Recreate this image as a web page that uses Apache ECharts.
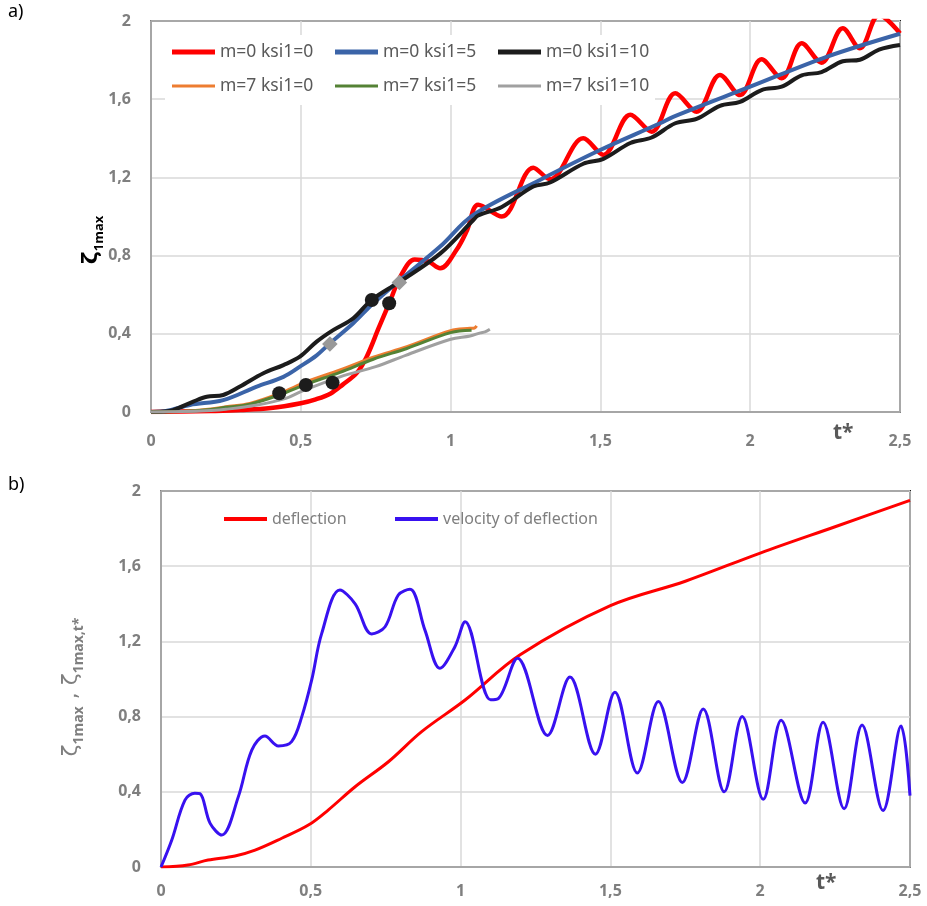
<!DOCTYPE html>
<html>
<head>
<meta charset="utf-8">
<script src="https://cdn.jsdelivr.net/npm/echarts@6/dist/echarts.min.js"></script>
<style>
  html, body { margin: 0; padding: 0; background: #fff; }
  #chart { width: 927px; height: 906px; }
</style>
</head>
<body>
<div id="chart"></div>
<script>
// ---- chart a) : m / ksi1 curves ----
const xTicks = [0, 0.5, 1, 1.5, 2, 2.5];
const yTicks = [0, 0.4, 0.8, 1.2, 1.6, 2];

const tRedA = [0, 0.1, 0.2, 0.3, 0.4, 0.5, 0.55, 0.6, 0.64, 0.687, 0.72, 0.76, 0.795, 0.835, 0.88, 0.925, 0.965, 1.02, 1.055, 1.092, 1.171, 1.276, 1.332, 1.443, 1.51, 1.6, 1.671, 1.75, 1.821, 1.899, 1.966, 2.038, 2.105, 2.172, 2.238, 2.309, 2.366, 2.43, 2.5];
const vRedA = [0, 0.002, 0.005, 0.01, 0.02, 0.045, 0.065, 0.095, 0.14, 0.2, 0.283, 0.43, 0.556, 0.7, 0.78, 0.77, 0.735, 0.83, 0.93, 1.06, 1.0, 1.25, 1.19, 1.40, 1.315, 1.52, 1.434, 1.63, 1.536, 1.724, 1.621, 1.804, 1.707, 1.886, 1.787, 1.963, 1.86, 2.03, 1.937];

const tBlueA = [0, 0.05, 0.13, 0.241, 0.353, 0.442, 0.497, 0.553, 0.597, 0.675, 0.742, 0.831, 0.965, 1.076, 1.298, 1.499, 1.699, 1.743, 2.0, 2.255, 2.5];
const vBlueA = [0, 0.005, 0.036, 0.061, 0.13, 0.18, 0.232, 0.29, 0.351, 0.454, 0.556, 0.675, 0.846, 1.008, 1.187, 1.34, 1.477, 1.51, 1.664, 1.817, 1.935];

const tBlackA = [0, 0.04, 0.074, 0.141, 0.186, 0.241, 0.297, 0.375, 0.442, 0.497, 0.553, 0.608, 0.675, 0.736, 0.831, 0.965, 1.076, 1.092, 1.171, 1.276, 1.332, 1.443, 1.51, 1.6, 1.671, 1.75, 1.821, 1.899, 1.966, 2.038, 2.105, 2.172, 2.238, 2.309, 2.366, 2.43, 2.5];
const vBlackA = [0, 0.002, 0.01, 0.053, 0.078, 0.087, 0.13, 0.198, 0.24, 0.283, 0.36, 0.419, 0.479, 0.573, 0.667, 0.81, 0.982, 1.005, 1.049, 1.153, 1.174, 1.27, 1.295, 1.376, 1.404, 1.477, 1.499, 1.566, 1.586, 1.647, 1.664, 1.722, 1.739, 1.794, 1.802, 1.853, 1.877];

const tOrangeA = [0, 0.1, 0.2, 0.25, 0.33, 0.431, 0.52, 0.631, 0.742, 0.854, 1.0, 1.065, 1.08, 1.087];
const vOrangeA = [0, 0.003, 0.015, 0.027, 0.044, 0.096, 0.155, 0.215, 0.28, 0.334, 0.416, 0.428, 0.43, 0.44];

const tGreenA = [0, 0.1, 0.2, 0.25, 0.33, 0.431, 0.52, 0.631, 0.742, 0.854, 1.0, 1.07];
const vGreenA = [0, 0.003, 0.013, 0.024, 0.04, 0.089, 0.143, 0.203, 0.27, 0.325, 0.406, 0.418];

const tGrayA = [0, 0.1, 0.2, 0.25, 0.35, 0.45, 0.5, 0.631, 0.75, 0.85, 1.0, 1.065, 1.1, 1.115, 1.131];
const vGrayA = [0, 0.002, 0.008, 0.014, 0.035, 0.07, 0.104, 0.18, 0.232, 0.29, 0.372, 0.389, 0.405, 0.41, 0.423];

// black dots and grey squares marked on the curves
const tDots = [0.428, 0.517, 0.606, 0.737, 0.795];
const vDots = [0.096, 0.138, 0.15, 0.573, 0.556];
const tSquares = [0.597, 0.829];
const vSquares = [0.348, 0.662];

// ---- chart b) : deflection and its velocity ----
const tDefl = [0, 0.09, 0.157, 0.247, 0.314, 0.403, 0.492, 0.558, 0.648, 0.759, 0.87, 1.015, 1.2, 1.5, 1.75, 2.0, 2.25, 2.5];
const vDefl = [0, 0.011, 0.037, 0.059, 0.09, 0.153, 0.223, 0.303, 0.427, 0.56, 0.72, 0.888, 1.13, 1.39, 1.52, 1.67, 1.81, 1.95];

const tVel = [0, 0.036, 0.08, 0.113, 0.13, 0.164, 0.203, 0.258, 0.303, 0.347, 0.392, 0.436, 0.47, 0.503, 0.536, 0.597, 0.648, 0.703, 0.748, 0.792, 0.831, 0.881, 0.931, 0.981, 1.015, 1.1, 1.125, 1.19, 1.29, 1.365, 1.45, 1.515, 1.59, 1.66, 1.74, 1.81, 1.88, 1.94, 2.01, 2.07, 2.15, 2.21, 2.28, 2.34, 2.41, 2.47, 2.5];
const vVel = [0, 0.144, 0.356, 0.392, 0.39, 0.232, 0.17, 0.373, 0.622, 0.697, 0.644, 0.667, 0.8, 0.995, 1.24, 1.473, 1.40, 1.24, 1.278, 1.447, 1.477, 1.26, 1.057, 1.172, 1.305, 0.89, 0.895, 1.11, 0.70, 1.01, 0.6, 0.93, 0.5, 0.88, 0.45, 0.84, 0.4, 0.80, 0.36, 0.78, 0.34, 0.77, 0.31, 0.755, 0.30, 0.75, 0.38];

const namesA = ['m=0 ksi1=0', 'm=0 ksi1=5', 'm=0 ksi1=10', 'm=7 ksi1=0', 'm=7 ksi1=5', 'm=7 ksi1=10'];
const namesB = ['deflection', 'velocity of deflection'];

function zip(ts, vs) {
  return ts.map((t, i) => [t, vs[i]]);
}
const comma = v => String(+v.toFixed(2)).replace('.', ',');

const labelFont = { color: '#7f7f7f', fontWeight: 'bold', fontSize: 16, fontFamily: 'Noto Sans' };

function xAxisCfg(gridIndex, margin) {
  return {
    type: 'value', gridIndex, min: 0, max: 2.5, interval: 0.5,
    axisLine: { lineStyle: { color: '#a6a6a6', width: 2 } },
    axisTick: { show: false },
    axisLabel: Object.assign({ margin, formatter: comma }, labelFont),
    splitLine: { lineStyle: { color: '#d9d9d9', width: 1.5 } }
  };
}
function yAxisCfg(gridIndex) {
  return {
    type: 'value', gridIndex, min: 0, max: 2, interval: 0.4,
    axisLine: { show: true, lineStyle: { color: '#a6a6a6', width: 2 } },
    axisTick: { show: false },
    axisLabel: Object.assign({ margin: 20, formatter: comma }, labelFont),
    splitLine: { lineStyle: { color: '#d9d9d9', width: 1.5 } }
  };
}

function lineSeries(name, data, color, width, xi) {
  return {
    name, type: 'line', data, xAxisIndex: xi, yAxisIndex: xi,
    smooth: 0.35, showSymbol: false, symbol: 'none',
    lineStyle: { color, width }, itemStyle: { color },
    animation: false
  };
}

const legendText = { color: '#595959', fontSize: 17.5, fontFamily: 'Noto Sans' };

const chart = echarts.init(document.getElementById('chart'));
chart.setOption({
  animation: false,
  grid: [
    { left: 151, top: 21, width: 749, height: 391, show: true, borderColor: '#1a1a1a', borderWidth: 2 },
    { left: 161, top: 491, width: 749, height: 376, show: true, borderColor: '#1a1a1a', borderWidth: 2 }
  ],
  xAxis: [xAxisCfg(0, 21), xAxisCfg(1, 16)],
  yAxis: [yAxisCfg(0), yAxisCfg(1)],
  legend: [
    {
      data: namesA.slice(0, 3), left: 165, top: 35, orient: 'horizontal', icon: 'rect',
      padding: [6, 1, 8, 7], itemGap: 7, itemWidth: 43, itemHeight: 5,
      backgroundColor: '#fff', textStyle: Object.assign({ width: 108, lineHeight: 22 }, legendText)
    },
    {
      data: namesA.slice(3), left: 165, top: 68, orient: 'horizontal', icon: 'rect',
      padding: [7, 1, 8, 7], itemGap: 7, itemWidth: 43, itemHeight: 3,
      backgroundColor: '#fff', textStyle: Object.assign({ width: 108, lineHeight: 22 }, legendText)
    },
    {
      data: [namesB[0]], left: 224, top: 509, padding: 0, icon: 'rect', itemWidth: 43, itemHeight: 4,
      textStyle: { color: '#7f7f7f', fontSize: 16, fontFamily: 'Noto Sans', lineHeight: 20 }
    },
    {
      data: [namesB[1]], left: 395, top: 509, padding: 0, icon: 'rect', itemWidth: 43, itemHeight: 4,
      textStyle: { color: '#7f7f7f', fontSize: 16, fontFamily: 'Noto Sans', lineHeight: 20 }
    }
  ],
  series: [
    lineSeries(namesA[0], zip(tRedA, vRedA), '#ff0000', 4.5, 0),
    lineSeries(namesA[1], zip(tBlueA, vBlueA), '#3b64a8', 4, 0),
    lineSeries(namesA[2], zip(tBlackA, vBlackA), '#1c1c1c', 4, 0),
    lineSeries(namesA[3], zip(tOrangeA, vOrangeA), '#ed7d31', 3, 0),
    lineSeries(namesA[4], zip(tGreenA, vGreenA), '#548235', 3, 0),
    lineSeries(namesA[5], zip(tGrayA, vGrayA), '#a0a0a0', 3, 0),
    {
      type: 'scatter', xAxisIndex: 0, yAxisIndex: 0, data: zip(tDots, vDots),
      symbol: 'circle', symbolSize: 14, itemStyle: { color: '#1c1c1c', opacity: 1 }, z: 5
    },
    {
      type: 'scatter', xAxisIndex: 0, yAxisIndex: 0, data: zip(tSquares, vSquares),
      symbol: 'rect', symbolSize: 11, symbolRotate: 45, itemStyle: { color: '#999999', opacity: 1 }, z: 5
    },
    lineSeries(namesB[0], zip(tDefl, vDefl), '#ff0000', 3, 1),
    lineSeries(namesB[1], zip(tVel, vVel), '#3811f0', 3, 1)
  ],
  graphic: [
    { type: 'text', left: 8, top: 3, style: { text: 'a)', fontSize: 18, fontFamily: 'Noto Sans', fill: '#000' } },
    { type: 'text', left: 8, top: 476, style: { text: 'b)', fontSize: 18, fontFamily: 'Noto Sans', fill: '#000' } },
    { type: 'text', left: 833, top: 423, style: { text: 't*', fontSize: 21, fontWeight: 'bold', fontFamily: 'Noto Sans', fill: '#595959' } },
    { type: 'text', left: 816, top: 873, style: { text: 't*', fontSize: 21, fontWeight: 'bold', fontFamily: 'Noto Sans', fill: '#595959' } },
    {
      type: 'text', x: 88, y: 240, rotation: Math.PI / 2,
      style: {
        text: '{z|ζ}{s|1max}', align: 'center', verticalAlign: 'middle',
        rich: {
          z: { fontSize: 22, fontWeight: 'bold', fill: '#000', fontFamily: 'DejaVu Sans', lineHeight: 28, verticalAlign: 'bottom' },
          s: { fontSize: 13, fontWeight: 'bold', fill: '#000', fontFamily: 'Noto Sans', lineHeight: 28, verticalAlign: 'bottom', padding: [0, 0, -4, 0] }
        }
      }
    },
    {
      type: 'text', x: 68, y: 687, rotation: Math.PI / 2,
      style: {
        text: '{z|ζ}{s|1max}{z| , ζ}{s|1max,t*}', align: 'center', verticalAlign: 'middle',
        rich: {
          z: { fontSize: 22, fill: '#7f7f7f', fontFamily: 'DejaVu Sans', lineHeight: 28, verticalAlign: 'bottom' },
          s: { fontSize: 14, fontWeight: 'bold', fill: '#7f7f7f', fontFamily: 'Noto Sans', lineHeight: 28, verticalAlign: 'bottom', padding: [0, 0, -4, 0] }
        }
      }
    }
  ]
});
</script>
</body>
</html>
